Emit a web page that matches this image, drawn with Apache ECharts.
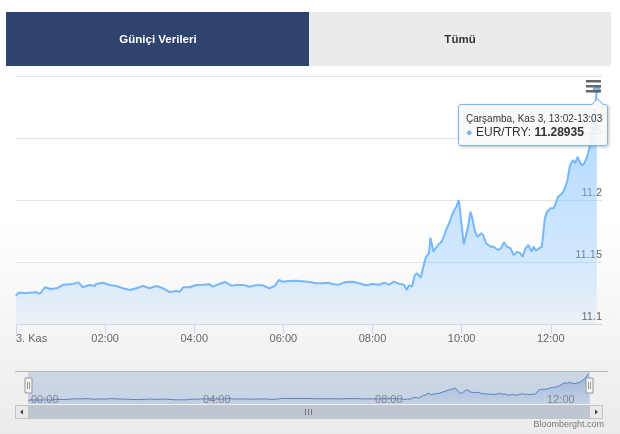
<!DOCTYPE html>
<html><head><meta charset="utf-8">
<script src="https://cdn.jsdelivr.net/npm/echarts@6/dist/echarts.min.js"></script>
<style>html,body{margin:0;padding:0;background:#fff;}#c{width:620px;height:434px;}</style>
</head><body><div id="c"></div>
<script>
// ---- data (minutes after midnight, 3 Kasım) ----
const times = [
  0,3,14,28,32,39,46,55,64,77,84,90,99,106,108,117,126,135,144,153,
  162,171,180,189,198,207,216,220,225,234,243,252,261,265,274,281,290,299,308,314,
  323,332,341,348,354,359,368,377,386,395,404,413,420,426,435,444,453,462,471,480,
  489,496,502,509,516,522,526,529,533,537,540,545,548,552,554,556,558,562,565,569,
  573,576,579,582,584,587,590,593,596,597,600,603,607,609,612,614,618,621,626,629,
  633,639,643,649,653,657,661,666,670,675,679,682,686,690,694,697,700,704,708,712,
  715,720,724,726,730,733,737,742,746,750,753,756,759,762,765,769,772,776,779,782
];
const values = [
  11.1226,11.1252,11.1250,11.1256,11.1242,11.1296,11.1282,11.1288,11.1317,11.1323,11.1336,11.1296,11.1315,11.1306,11.1323,11.1333,11.1315,11.1306,11.1288,11.1274,
  11.1288,11.1306,11.1288,11.1306,11.1288,11.1258,11.1266,11.1258,11.1296,11.1296,11.1315,11.1317,11.1320,11.1301,11.1323,11.1339,11.1309,11.1317,11.1312,11.1301,
  11.1312,11.1312,11.1288,11.1306,11.1355,11.1341,11.1347,11.1349,11.1344,11.1339,11.1328,11.1328,11.1333,11.1323,11.1317,11.1339,11.1341,11.1328,11.1312,11.1323,
  11.1317,11.1333,11.1315,11.1341,11.1323,11.1318,11.1274,11.1312,11.1301,11.1395,11.1409,11.1373,11.1449,11.1543,11.1530,11.1570,11.1696,11.1583,11.1610,11.1643,
  11.1664,11.1704,11.1758,11.1798,11.1825,11.1879,11.1919,11.1946,11.2000,11.1960,11.1798,11.1643,11.1744,11.1798,11.1906,11.1865,11.1744,11.1704,11.1731,11.1718,
  11.1651,11.1623,11.1623,11.1597,11.1610,11.1659,11.1623,11.1610,11.1556,11.1583,11.1570,11.1543,11.1610,11.1637,11.1583,11.1623,11.1590,11.1610,11.1623,11.1852,
  11.1906,11.1933,11.1933,11.1919,11.2027,11.2040,11.2067,11.2147,11.2282,11.2323,11.2296,11.2349,11.2309,11.2277,11.2296,11.2349,11.2417,11.2560,11.2700,11.28935
];
const seriesName = 'EUR/TRY';
const dayLabel = '3. Kas';
const weekdayName = 'Çarşamba';
const monthName = 'Kas';
const dayNumber = 3;
const xTicks = [0,120,240,360,480,600,720];
const navTicks = [0,240,480,720];
const navGridTicks = [240,480,720];
const yTicks = [11.1,11.15,11.2,11.25];
const tabLabels = ['Güniçi Verileri','Tümü'];
const creditText = 'Bloomberght.com';

function hhmm(m){const h=Math.floor(m/60),mm=Math.round(m%60);return String(h).padStart(2,'0')+':'+String(mm).padStart(2,'0');}
const pts = times.map((t,i)=>[t,values[i]]);
const lastIdx = values.length-1;

const LINE='#6ca8e3';
const FONT='"Liberation Sans", Arial, sans-serif';
const TABFONT='bold 11.5px "Liberation Sans", Arial, sans-serif';
const chart = echarts.init(document.getElementById('c'), null, {renderer:'canvas'});

const graphics = [
  {type:'rect', shape:{x:6,y:12,width:303,height:54}, style:{fill:'#2f436f'}, z:1},
  {type:'rect', shape:{x:309,y:12,width:302,height:54}, style:{fill:'#ebebeb'}, z:1},
  {type:'text', x:158, y:40, style:{text:tabLabels[0], fill:'#fff', font:TABFONT, align:'center', verticalAlign:'middle'}, z:2},
  {type:'text', x:460, y:40, style:{text:tabLabels[1], fill:'#333', font:TABFONT, align:'center', verticalAlign:'middle'}, z:2},
  // menu icon
  {type:'rect', shape:{x:586,y:80,width:15,height:2.5}, style:{fill:'#666'}, z:5},
  {type:'rect', shape:{x:586,y:85,width:15,height:2.5}, style:{fill:'#666'}, z:5},
  {type:'rect', shape:{x:586,y:90,width:15,height:2.5}, style:{fill:'#666'}, z:5},
  // navigator
  {type:'line', shape:{x1:15,y1:371.5,x2:608,y2:371.5}, style:{stroke:'#b4b4b4',lineWidth:1}, z:3},
  {type:'rect', shape:{x:28,y:372,width:562,height:32}, style:{fill:'rgba(105,145,205,0.28)'}, z:0},
  // handles
  {type:'rect', shape:{x:25,y:378,width:7,height:15}, style:{fill:'#f2f2f2',stroke:'#999',lineWidth:1}, z:6},
  {type:'line', shape:{x1:27.5,y1:382,x2:27.5,y2:389}, style:{stroke:'#999',lineWidth:1}, z:7},
  {type:'line', shape:{x1:29.5,y1:382,x2:29.5,y2:389}, style:{stroke:'#999',lineWidth:1}, z:7},
  {type:'rect', shape:{x:586,y:378,width:7,height:15}, style:{fill:'#f2f2f2',stroke:'#999',lineWidth:1}, z:6},
  {type:'line', shape:{x1:588.5,y1:382,x2:588.5,y2:389}, style:{stroke:'#999',lineWidth:1}, z:7},
  {type:'line', shape:{x1:590.5,y1:382,x2:590.5,y2:389}, style:{stroke:'#999',lineWidth:1}, z:7},
  // scrollbar
  {type:'rect', shape:{x:15,y:405,width:588,height:14}, style:{fill:'#bfc6cf'}, z:3},
  {type:'rect', shape:{x:15.5,y:405.5,width:13,height:13}, style:{fill:'#e8e8e8',stroke:'#c4c4c4',lineWidth:1}, z:4},
  {type:'rect', shape:{x:589.5,y:405.5,width:13,height:13}, style:{fill:'#e8e8e8',stroke:'#c4c4c4',lineWidth:1}, z:4},
  {type:'polygon', shape:{points:[[20,412],[23,409.5],[23,414.5]]}, style:{fill:'#444'}, z:5},
  {type:'polygon', shape:{points:[[598,412],[595,409.5],[595,414.5]]}, style:{fill:'#444'}, z:5},
  {type:'line', shape:{x1:305.5,y1:409,x2:305.5,y2:415}, style:{stroke:'#777',lineWidth:1}, z:5},
  {type:'line', shape:{x1:308.5,y1:409,x2:308.5,y2:415}, style:{stroke:'#777',lineWidth:1}, z:5},
  {type:'line', shape:{x1:311.5,y1:409,x2:311.5,y2:415}, style:{stroke:'#777',lineWidth:1}, z:5},
  {type:'text', x:604, y:425, style:{text:creditText, fill:'#777', font:'9px '+FONT, align:'right', verticalAlign:'middle'}, z:5}
];

const option = {
  animation:false,
  backgroundColor:{type:'linear',x:0,y:0,x2:0,y2:1,colorStops:[{offset:0,color:'#ffffff'},{offset:0.5,color:'#ffffff'},{offset:1,color:'#ebebeb'}]},
  graphic: graphics,
  grid:[
    {left:16, width:586, top:76, height:248, containLabel:false},
    {left:28, width:562, top:372, height:32, containLabel:false}
  ],
  xAxis:[
    {type:'value', gridIndex:0, min:0, max:789, interval:120,
     axisLine:{show:true, lineStyle:{color:'#ccd6eb'}},
     axisTick:{show:true, length:10, lineStyle:{color:'#ccd6eb'}, customValues:xTicks},
     axisLabel:{color:'#666', fontSize:11, fontFamily:FONT, margin:9, customValues:xTicks, alignMinLabel:'left',
       formatter:v=> v===0 ? dayLabel : hhmm(v)},
     splitLine:{show:false}},
    {type:'value', gridIndex:1, min:0, max:784, interval:240,
     axisLine:{show:false},
     axisTick:{show:true, inside:true, length:32, lineStyle:{color:'#d4d8de'}, customValues:navGridTicks},
     axisLabel:{inside:true, color:'#888', fontSize:11, fontFamily:FONT, margin:-1, align:'left', padding:[0,0,0,3], customValues:navTicks,
       formatter:v=>hhmm(v)},
     splitLine:{show:false}}
  ],
  yAxis:[
    {type:'value', gridIndex:0, min:11.1, max:11.3, interval:0.05, position:'right',
     axisLine:{show:false}, axisTick:{show:false},
     axisLabel:{inside:true, margin:0, color:'#666', fontSize:11, fontFamily:FONT, verticalAlign:'bottom', lineHeight:14, customValues:yTicks},
     splitLine:{show:true, lineStyle:{color:'#e3e3e3'}}},
    {type:'value', gridIndex:1, min:11.1, max:11.3, show:false}
  ],
  tooltip:{
    trigger:'axis', triggerOn:'none', alwaysShowContent:true, transitionDuration:0,
    axisPointer:{type:'none'},
    backgroundColor:'rgba(248,248,248,0.88)', borderColor:'#7cb5ec', borderWidth:1, borderRadius:3,
    padding:[7,5,6,7], position:[458,104],
    extraCssText:'box-shadow:1px 1px 3px rgba(0,0,0,0.25);white-space:nowrap;overflow:visible;',
    formatter: params => {
      const p = params.filter(q=>q.seriesIndex===0)[0] || params[0];
      const t = p.value[0];
      const title = weekdayName+', '+monthName+' '+dayNumber+', '+hhmm(t)+'-'+hhmm(t+1);
      return '<div style="position:absolute;left:134px;top:-5px;width:8px;height:8px;background:rgba(248,248,248,1);border-left:1px solid #7cb5ec;border-top:1px solid #7cb5ec;transform:rotate(45deg);"></div>'+
        '<div style="font:10px '+FONT.replace(/"/g,"'")+';color:#333;line-height:13px;">'+title+'</div>'+
        '<div style="font:12px '+FONT.replace(/"/g,"'")+';color:#333;line-height:14px;"><span style="color:#7cb5ec;font-size:11px;">\u25CF</span> '+seriesName+': <b>'+p.value[1]+'</b></div>';
    }
  },
  series:[
    {type:'line', name:seriesName, xAxisIndex:0, yAxisIndex:0, data:pts, showSymbol:false, symbol:'circle', symbolSize:7,
     lineStyle:{color:LINE, width:2}, itemStyle:{color:'#7cb5ec'},
     areaStyle:{origin:'start', color:{type:'linear', x:0, y:76, x2:0, y2:324, global:true, colorStops:[
       {offset:0, color:'rgba(118,176,234,0.95)'},
       {offset:0.5, color:'rgba(118,176,234,0.68)'},
       {offset:0.72, color:'rgba(118,176,234,0.5)'},
       {offset:0.9, color:'rgba(118,176,234,0.27)'},
       {offset:1, color:'rgba(118,176,234,0.1)'}]}},
     z:3},
    {type:'line', name:seriesName+' nav', xAxisIndex:1, yAxisIndex:1, data:pts, showSymbol:false, silent:true,
     lineStyle:{color:'#5684c0', width:1},
     areaStyle:{origin:'start', color:{type:'linear', x:0, y:372, x2:0, y2:404, global:true, colorStops:[
       {offset:0, color:'rgba(80,130,200,0.55)'},
       {offset:1, color:'rgba(80,130,200,0.05)'}]}},
     z:2}
  ]
};
chart.setOption(option);
chart.dispatchAction({type:'showTip', seriesIndex:0, dataIndex:lastIdx});
</script></body></html>
